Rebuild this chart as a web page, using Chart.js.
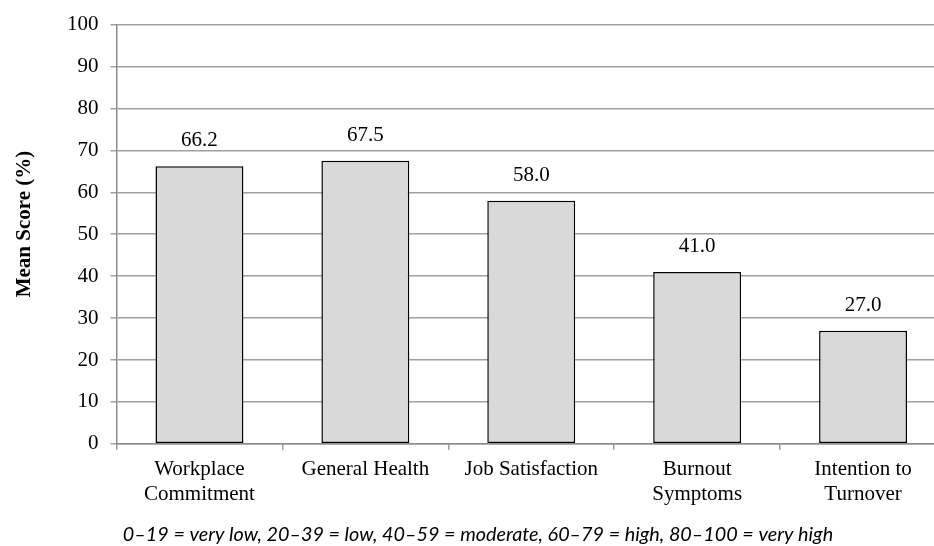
<!DOCTYPE html>
<html>
<head>
<meta charset="utf-8">
<script src="https://cdn.jsdelivr.net/npm/chart.js@4/dist/chart.umd.min.js"></script>
<style>
  html, body { margin: 0; padding: 0; background: #ffffff; overflow: hidden; }
  #wrap { position: absolute; left: 0; top: 0; width: 966px; height: 546px; }
</style>
</head>
<body>
<div id="wrap"><canvas id="chart" width="966" height="546"></canvas></div>
<script>
// Mean scores per scale (percent)
const categories = [
  ["Workplace", "Commitment"],
  "General Health",
  "Job Satisfaction",
  ["Burnout", "Symptoms"],
  ["Intention to", "Turnover"]
];
const meanScores = [66.2, 67.5, 58.0, 41.0, 27.0];
const yTicks = [0, 10, 20, 30, 40, 50, 60, 70, 80, 90, 100];
const yTitle = "Mean Score (%)";
const footnote = "0–19 = very low, 20–39 = low, 40–59 = moderate, 60–79 = high, 80–100 = very high";

const SERIF = "'Liberation Serif', 'Times New Roman', serif";

// Value labels above each bar
const valueLabels = {
  id: 'valueLabels',
  afterDatasetsDraw(chart) {
    const ctx = chart.ctx;
    const meta = chart.getDatasetMeta(0);
    ctx.save();
    ctx.font = "21px " + SERIF;
    ctx.fillStyle = "#000000";
    ctx.textAlign = "center";
    ctx.textBaseline = "alphabetic";
    meta.data.forEach((bar, i) => {
      ctx.fillText(meanScores[i].toFixed(1), bar.x, bar.y - 20);
    });
    ctx.restore();
  }
};

// Rotated y-axis title
const axisTitle = {
  id: 'axisTitle',
  afterDraw(chart) {
    const ctx = chart.ctx;
    ctx.save();
    ctx.translate(25, 224);
    ctx.rotate(-Math.PI / 2);
    ctx.font = "bold 21px " + SERIF;
    ctx.fillStyle = "#000000";
    ctx.textAlign = "center";
    ctx.textBaseline = "middle";
    ctx.fillText(yTitle, 0, 0);
    ctx.restore();
  }
};

new Chart(document.getElementById('chart'), {
  type: 'bar',
  data: {
    labels: categories,
    datasets: [{
      data: meanScores,
      backgroundColor: '#d9d9d9',
      borderColor: '#000000',
      borderWidth: 1.5,
      borderSkipped: false,
      categoryPercentage: 1.0,
      barPercentage: 0.53
    }]
  },
  options: {
    responsive: false,
    animation: false,
    devicePixelRatio: 1,
    layout: { padding: { left: 10, top: 22, right: 20, bottom: 0 } },
    plugins: {
      legend: { display: false },
      tooltip: { enabled: false },
      title: {
        display: true,
        position: 'bottom',
        text: footnote,
        color: '#000000',
        font: { family: "Lato, 'Open Sans', sans-serif", style: 'italic', size: 19.8, weight: 'normal', lineHeight: 1.2 },
        padding: { top: 8, bottom: 0 }
      }
    },
    scales: {
      x: {
        grid: {
          display: true,
          drawOnChartArea: false,
          drawTicks: true,
          tickLength: 6,
          color: '#999999',
          lineWidth: 1.5,
          offset: true
        },
        border: { display: true, color: '#8c8c8c', width: 1.5 },
        ticks: {
          color: '#000000',
          padding: 7,
          maxRotation: 0,
          autoSkip: false,
          font: { family: SERIF, size: 21, lineHeight: 1.2 }
        }
      },
      y: {
        min: 0,
        max: 100,
        afterBuildTicks(scale) {
          scale.ticks = yTicks.map(v => ({ value: v }));
        },
        afterFit(scale) { scale.width = 106.5; },
        grid: {
          color: '#a0a0a0',
          lineWidth: 1.5,
          tickLength: 6,
          drawTicks: true
        },
        border: { display: true, color: '#8c8c8c', width: 1.5 },
        ticks: {
          color: '#000000',
          padding: 12,
          font: { family: SERIF, size: 21 }
        }
      }
    }
  },
  plugins: [valueLabels, axisTitle]
});
</script>
</body>
</html>
